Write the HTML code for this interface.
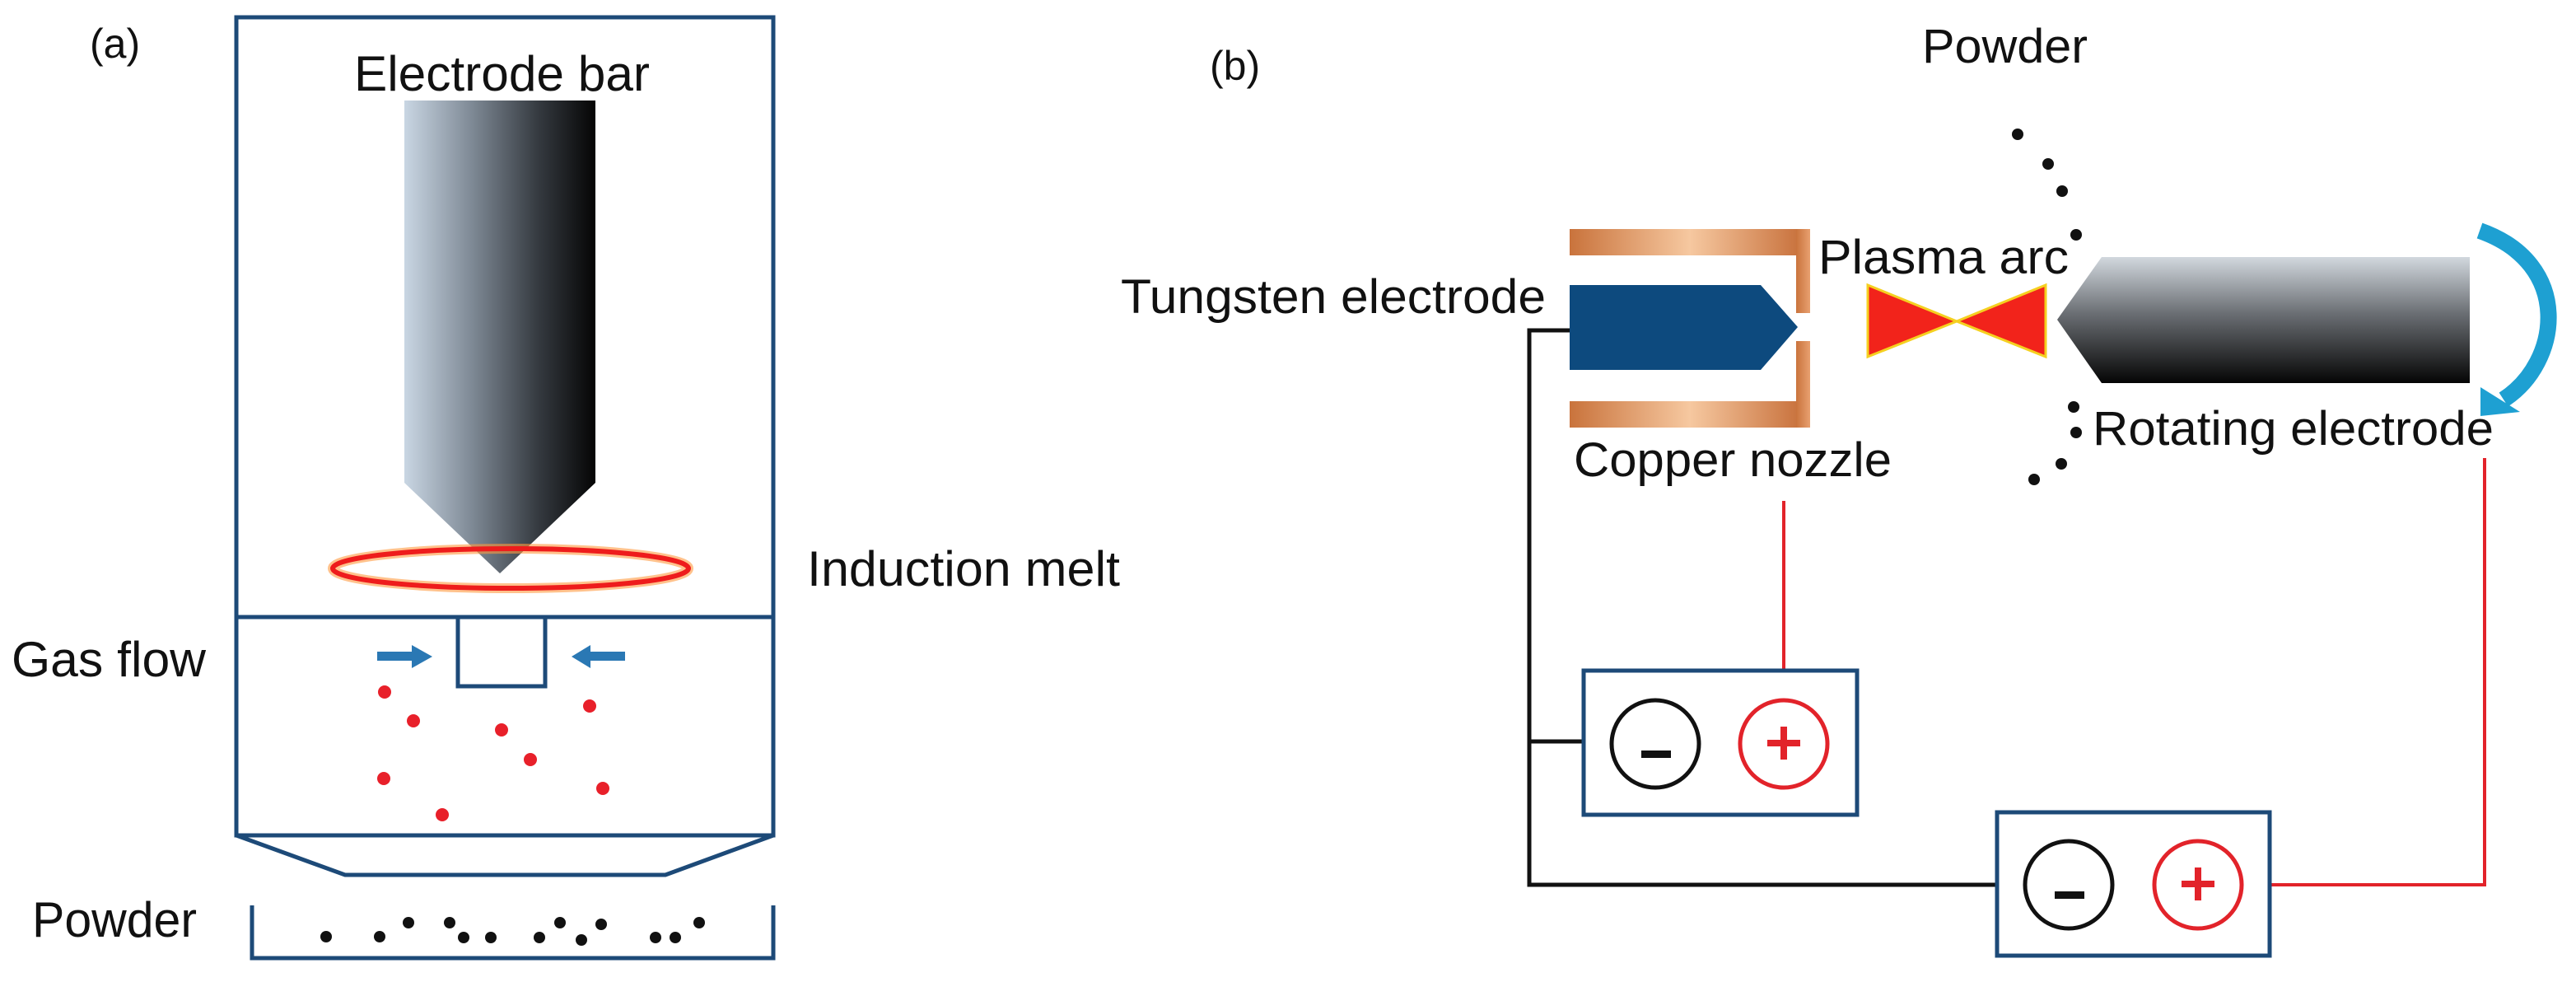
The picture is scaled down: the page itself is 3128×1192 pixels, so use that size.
<!DOCTYPE html>
<html><head><meta charset="utf-8"><style>
html,body{margin:0;padding:0;background:#fff;}
svg{display:block;}
text{font-family:"Liberation Sans",Arial,sans-serif;fill:#111;}
</style></head><body>
<svg width="3128" height="1192" viewBox="0 0 3128 1192" xmlns="http://www.w3.org/2000/svg">
<defs>
<linearGradient id="bar" x1="0" x2="1" y1="0" y2="0">
<stop offset="0" stop-color="#c9d6e3"/><stop offset="0.35" stop-color="#7f8a96"/><stop offset="0.7" stop-color="#353a40"/><stop offset="1" stop-color="#050505"/>
</linearGradient>
<linearGradient id="rot" x1="0" x2="0" y1="0" y2="1">
<stop offset="0" stop-color="#d2d8de"/><stop offset="0.45" stop-color="#6a6e73"/><stop offset="1" stop-color="#050505"/>
</linearGradient>
<linearGradient id="cu" x1="0" x2="1" y1="0" y2="0">
<stop offset="0" stop-color="#c9733c"/><stop offset="0.5" stop-color="#f6c8a0"/><stop offset="1" stop-color="#c46a34"/>
</linearGradient>
<linearGradient id="cuv" x1="0" x2="1" y1="0" y2="0">
<stop offset="0" stop-color="#c9733c"/><stop offset="1" stop-color="#e8a070"/>
</linearGradient>
</defs>

<!-- Panel a -->
<text x="109" y="70" font-size="50">(a)</text>
<g fill="none" stroke="#1d4a78" stroke-width="5">
<rect x="287" y="21" width="652" height="993"/>
<line x1="287" y1="749" x2="939" y2="749"/>
<path d="M556 749 V833 H662 V749"/>
<path d="M287 1014 L419 1062 H808 L939 1014"/>
<path d="M306 1099 V1163 H939 V1099"/>
</g>
<text x="430" y="110" font-size="60" textLength="359" lengthAdjust="spacingAndGlyphs">Electrode bar</text>
<path d="M491 122 H723 V586 L607 696 L491 586 Z" fill="url(#bar)"/>
<ellipse cx="620" cy="690" rx="216" ry="24" fill="none" stroke="#ff9a40" stroke-width="12" opacity="0.6"/>
<ellipse cx="620" cy="690" rx="216" ry="24" fill="none" stroke="#ee1c1c" stroke-width="6"/>
<text x="980" y="711" font-size="60" textLength="380" lengthAdjust="spacingAndGlyphs">Induction melt</text>
<text x="14" y="821" font-size="60" textLength="236" lengthAdjust="spacingAndGlyphs">Gas flow</text>
<text x="39" y="1137" font-size="60" textLength="200" lengthAdjust="spacingAndGlyphs">Powder</text>
<g fill="#2a78b4">
<rect x="458" y="791" width="45" height="11"/><path d="M500 783 L525 797 L500 811 Z"/>
<rect x="714" y="791" width="45" height="11"/><path d="M717 783 L694 797 L717 811 Z"/>
</g>
<g fill="#e8202a">
<circle cx="467" cy="840" r="8"/><circle cx="502" cy="875" r="8"/><circle cx="609" cy="886" r="8"/><circle cx="716" cy="857" r="8"/><circle cx="644" cy="922" r="8"/><circle cx="466" cy="945" r="8"/><circle cx="732" cy="957" r="8"/><circle cx="537" cy="989" r="8"/>
</g>
<g fill="#111">
<circle cx="396" cy="1137" r="7"/><circle cx="461" cy="1137" r="7"/><circle cx="496" cy="1120" r="7"/><circle cx="546" cy="1120" r="7"/><circle cx="563" cy="1138" r="7"/><circle cx="596" cy="1138" r="7"/><circle cx="655" cy="1138" r="7"/><circle cx="680" cy="1120" r="7"/><circle cx="706" cy="1141" r="7"/><circle cx="730" cy="1122" r="7"/><circle cx="796" cy="1138" r="7"/><circle cx="820" cy="1138" r="7"/><circle cx="849" cy="1120" r="7"/>
</g>

<!-- Panel b -->
<text x="1469" y="97" font-size="50">(b)</text>
<text x="2334" y="76" font-size="58" textLength="201" lengthAdjust="spacingAndGlyphs">Powder</text>
<text x="1361" y="380" font-size="58" textLength="516" lengthAdjust="spacingAndGlyphs">Tungsten electrode</text>
<text x="2208" y="332" font-size="58" textLength="304" lengthAdjust="spacingAndGlyphs">Plasma arc</text>
<text x="2541" y="540" font-size="58" textLength="487" lengthAdjust="spacingAndGlyphs">Rotating electrode</text>
<text x="1911" y="578" font-size="58" textLength="386" lengthAdjust="spacingAndGlyphs">Copper nozzle</text>

<rect x="1906" y="278" width="292" height="32" fill="url(#cu)"/>
<rect x="1906" y="487" width="292" height="32" fill="url(#cu)"/>
<rect x="2181" y="278" width="17" height="102" fill="url(#cuv)"/>
<rect x="2181" y="414" width="17" height="105" fill="url(#cuv)"/>
<path d="M1906 346 H2138 L2183 397 L2138 449 H1906 Z" fill="#0d4a7e"/>

<path d="M2268 346 L2376 390 L2484 346 V433 L2376 390 L2268 433 Z" fill="#f2231b" stroke="#f5d020" stroke-width="3"/>
<path d="M2552 312 H2999 V465 H2552 L2498 388 Z" fill="url(#rot)"/>
<path d="M3011 280 C3125 320 3110 440 3040 485" fill="none" stroke="#1ea0d2" stroke-width="20"/>
<path d="M3012 470 L3060 500 L3012 505 Z" fill="#1ea0d2"/>

<g fill="#111">
<circle cx="2450" cy="163" r="7"/><circle cx="2487" cy="199" r="7"/><circle cx="2504" cy="232" r="7"/><circle cx="2521" cy="285" r="7"/><circle cx="2518" cy="494" r="7"/><circle cx="2521" cy="525" r="7"/><circle cx="2503" cy="563" r="7"/><circle cx="2470" cy="582" r="7"/>
</g>

<g fill="none" stroke-width="5">
<path d="M1906 401 H1857 V1074 H2425" stroke="#111"/>
<path d="M1857 900 H1923" stroke="#111"/>
<path d="M2166 608 V814" stroke="#e2232a" stroke-width="4"/>
<path d="M2756 1074 H3017 V556" stroke="#e2232a" stroke-width="4"/>
</g>
<g fill="none" stroke="#1d4a78" stroke-width="5">
<rect x="1923" y="814" width="332" height="175"/>
<rect x="2425" y="986" width="331" height="174"/>
</g>
<g fill="none" stroke-width="5">
<circle cx="2010" cy="903" r="53" stroke="#111"/>
<circle cx="2166" cy="903" r="53" stroke="#e2232a"/>
<circle cx="2512" cy="1074" r="53" stroke="#111"/>
<circle cx="2669" cy="1074" r="53" stroke="#e2232a"/>
</g>
<g fill="#111">
<rect x="1993" y="911" width="36" height="9"/>
<rect x="2495" y="1082" width="36" height="9"/>
</g>
<g fill="#e2232a">
<rect x="2146" y="898" width="40" height="8"/><rect x="2162" y="882" width="8" height="40"/>
<rect x="2649" y="1069" width="40" height="8"/><rect x="2665" y="1053" width="8" height="40"/>
</g>
</svg>
</body></html>
